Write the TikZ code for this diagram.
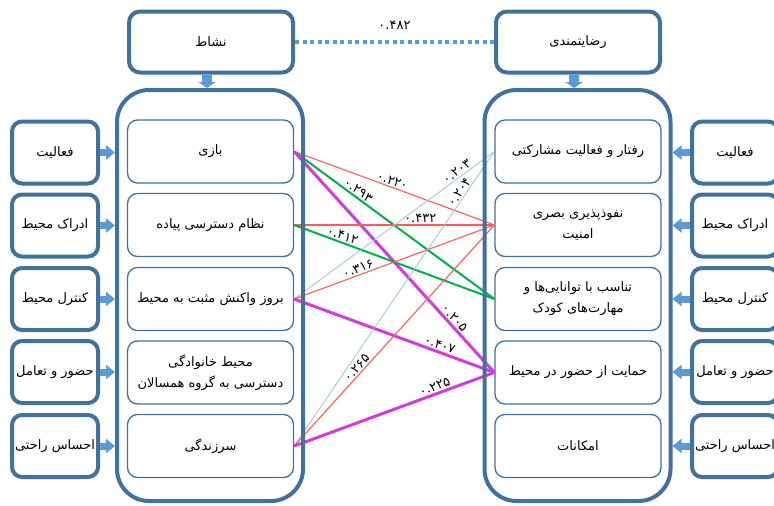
\documentclass[tikz,border=0pt]{standalone}
\usepackage{fontspec}
\newfontfamily\fa[Script=Arabic]{DejaVu Sans}
\TeXXeTstate=1
\usetikzlibrary{arrows.meta}
\definecolor{bdr}{HTML}{41719C}
\definecolor{arw}{HTML}{5B9BD5}
\definecolor{cred}{HTML}{FF5B5B}
\definecolor{cgreen}{HTML}{00B050}
\definecolor{cmag}{HTML}{D23CDC}
\definecolor{cblue}{HTML}{9DC3E6}
\newcommand\RT[1]{\beginR #1\endR}
\begin{document}
\begin{tikzpicture}[x=1pt,y=-1pt,font=\fa\fontsize{13}{21}\selectfont,
  topbox/.style={draw=bdr,line width=4pt,rounded corners=11pt,minimum width=164pt,minimum height=61pt,inner sep=0pt,fill=white},
  sidebox/.style={draw=bdr,line width=4pt,rounded corners=10pt,minimum width=86pt,minimum height=62pt,inner sep=0pt},
  inbox/.style={draw=bdr,line width=1.3pt,rounded corners=10pt,minimum width=166pt,minimum height=63pt,inner sep=0pt,align=center},
  cont/.style={draw=bdr,line width=4pt,rounded corners=32pt,minimum width=186pt,minimum height=411pt,inner sep=0pt},
  sideblk/.style={draw=arw,line width=7pt,-{Triangle[width=14pt,length=9pt]}},
  downblk/.style={draw=arw,line width=10pt,-{Triangle[width=17pt,length=6pt]}},
  rl/.style={draw=cred,line width=1.1pt},
  gl/.style={draw=cgreen,line width=2pt},
  ml/.style={draw=cmag,line width=3pt},
  bl/.style={draw=cblue,line width=0.8pt},
  lab/.style={sloped,above,inner sep=1.5pt,font=\fa\fontsize{13}{14}\selectfont,text=black},
  txt/.style={inner sep=0pt,align=center}]
\useasboundingbox (0,0) rectangle (774,506);
\fill[white] (0,0) rectangle (774,506);
% top boxes
\node[topbox] (topL) at (211,42) {\RT{نشاط}};
\node[topbox] (topR) at (578,42) {\RT{رضایتمندی}};
% inner left
\node[inbox] (L1) at (210.5,151.5) {\RT{بازی}};
\node[inbox] (L2) at (210.5,225) {\RT{نظام دسترسی پیاده}};
\node[inbox] (L3) at (210.5,299) {\RT{بروز واکنش مثبت به محیط}};
\node[inbox] (L4) at (210.5,372.5) {\RT{محیط خانوادگی}\\\RT{دسترسی به گروه همسالان}};
\node[inbox] (L5) at (210.5,446) {\RT{سرزندگی}};
% inner right
\node[inbox] (R1) at (578,151.5) {\RT{رفتار و فعالیت مشارکتی}};
\node[inbox] (R2) at (578,225) {\RT{نفوذپذیری بصری}\\\RT{امنیت}};
\node[inbox] (R3) at (578,299) {\RT{تناسب با توانایی‌ها و}\\\RT{مهارت‌های کودک}};
\node[inbox] (R4) at (578,372.5) {\RT{حمایت از حضور در محیط}};
\node[inbox] (R5) at (578,446) {\RT{امکانات}};
% side boxes left
\node[sidebox] (SL1) at (55,152.5) {};
\node[sidebox] (SL2) at (55,225.5) {};
\node[sidebox] (SL3) at (55,299) {};
\node[sidebox] (SL4) at (55,372) {};
\node[sidebox] (SL5) at (55,446) {};
\node[txt] (tSL1) at (SL1) {\RT{فعالیت}};
\node[txt] (tSL2) at (SL2) {\RT{ادراک محیط}};
\node[txt] (tSL3) at (SL3) {\RT{کنترل محیط}};
\node[txt] (tSL4) at (SL4) {\RT{حضور و تعامل}};
\node[txt] (tSL5) at (SL5) {\RT{احساس راحتی}};
% side boxes right
\node[sidebox] (SR1) at (735,152.5) {};
\node[sidebox] (SR2) at (735,225.5) {};
\node[sidebox] (SR3) at (735,299) {};
\node[sidebox] (SR4) at (735,372) {};
\node[sidebox] (SR5) at (735,446) {};
\node[txt] (tSR1) at (SR1) {\RT{فعالیت}};
\node[txt] (tSR2) at (SR2) {\RT{ادراک محیط}};
\node[txt] (tSR3) at (SR3) {\RT{کنترل محیط}};
\node[txt] (tSR4) at (SR4) {\RT{حضور و تعامل}};
\node[txt] (tSR5) at (SR5) {\RT{احساس راحتی}};
% correlation lines
\draw[rl] (L1.east) -- node[lab,pos=0.48]{۰.۲۲۰} (R2.west);
\draw[gl] (L1.east) -- node[lab,pos=0.30]{۰.۲۹۳} (R3.west);
\draw[ml] (L1.east) -- node[lab,pos=0.775]{۰.۲۰۵} (R4.west);
\draw[rl] (L2.east) -- node[lab,pos=0.63]{۰.۴۳۲} (R2.west);
\draw[gl] (L2.east) -- node[lab,pos=0.23]{۰.۴۱۲} (R3.west);
\draw[bl] (L3.east) -- node[lab,pos=0.83]{۰.۲۰۳} (R1.west);
\draw[rl] (L3.east) -- node[lab,pos=0.33]{۰.۳۱۶} (R2.west);
\draw[ml] (L3.east) -- node[lab,pos=0.715]{۰.۴۰۷} (R4.west);
\draw[bl] (L5.east) -- node[lab,pos=0.85]{۰.۲۰۴} (R1.west);
\draw[rl] (L5.east) -- node[lab,pos=0.335]{۰.۲۶۵} (R2.west);
\draw[ml] (L5.east) -- node[lab,pos=0.715]{۰.۲۲۵} (R4.west);
% containers
\node[cont] (contL) at (210,295.5) {};
\node[cont] (contR) at (577.5,295.5) {};
% block arrows
\draw[downblk] ([xshift=-4pt]topL.south) -- ([xshift=-4pt]topL.south |- contL.north);
\draw[downblk] ([xshift=-4pt]topR.south) -- ([xshift=-4pt]topR.south |- contR.north);
\foreach \i in {1,...,5}{
  \draw[sideblk] (SL\i.east) -- (SL\i.east -| contL.west);
  \draw[sideblk] (SR\i.west) -- (SR\i.west -| contR.east);
}
% dotted link
\draw[draw=arw,line width=4pt,dash pattern=on 4pt off 3.5pt] (topL.east) -- node[midway,above=7pt,text=black,font=\fa\fontsize{13}{14}\selectfont]{۰.۴۸۲} (topR.west);
\end{tikzpicture}
\end{document}
